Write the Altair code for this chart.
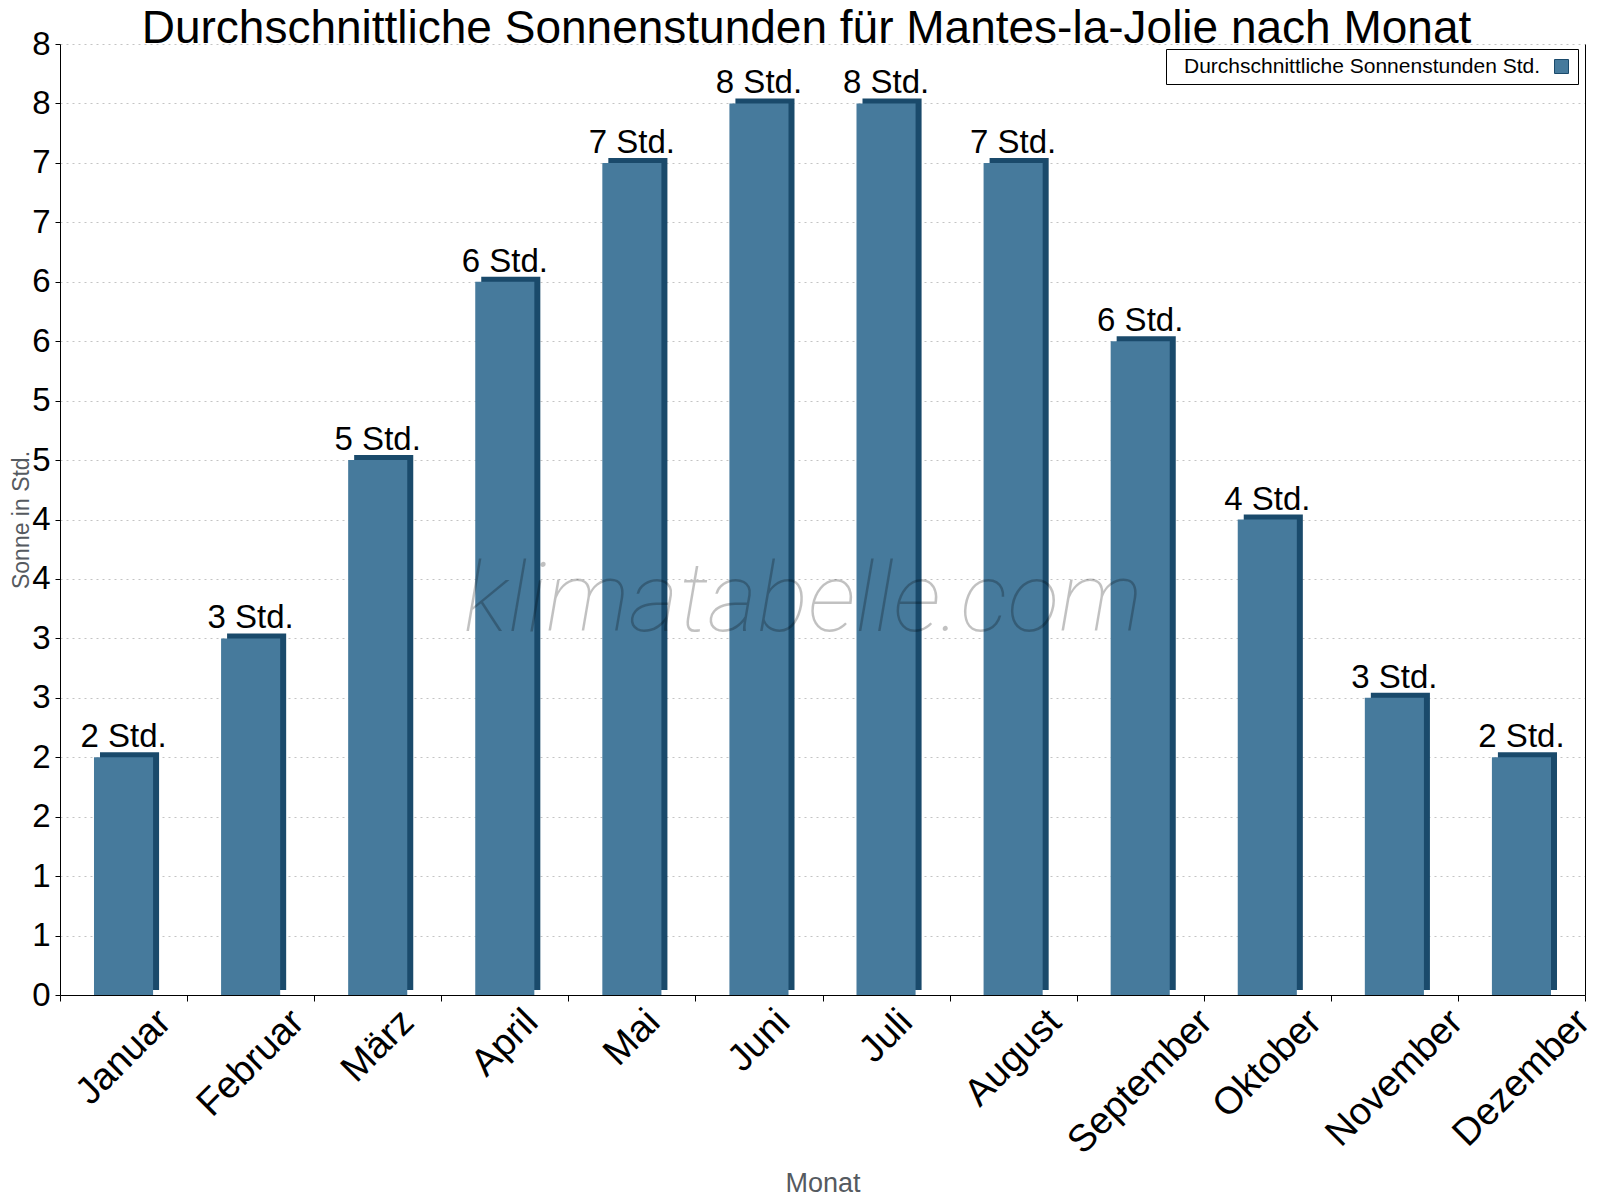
import altair as alt
import pandas as pd

# ---------------- data ----------------
months = ["Januar", "Februar", "März", "April", "Mai", "Juni",
          "Juli", "August", "September", "Oktober", "November", "Dezember"]
sun_hours = [2.0, 3.0, 4.5, 6.0, 7.0, 7.5, 7.5, 7.0, 5.5, 4.0, 2.5, 2.0]
series_name = "Durchschnittliche Sonnenstunden Std."
y_tick_values = [0, 0.5, 1, 1.5, 2, 2.5, 3, 3.5, 4, 4.5, 5, 5.5, 6, 6.5, 7, 7.5, 8]
chart_title = "Durchschnittliche Sonnenstunden für Mantes-la-Jolie nach Monat"
watermark = ["klimatabelle.com"]

df = pd.DataFrame({"month": months, "sun": sun_hours, "series": [series_name] * len(months)})

# ---------------- style ----------------
FONT = "Liberation Sans"
FRONT = "#467a9c"
DARK = "#1a4a6b"
W, H = 1525, 951
XLAB = 38

# approximate Arial advance widths (per 1000 em) to shift rotated labels
arial = {'J': 500, 'a': 556, 'n': 556, 'u': 556, 'r': 333, 'F': 611, 'e': 556, 'b': 556,
         'M': 833, 'ä': 556, 'z': 500, 'A': 667, 'p': 556, 'i': 222, 'l': 222, 'g': 556,
         's': 500, 't': 278, 'S': 667, 'm': 833, 'O': 778, 'k': 500, 'o': 556, 'N': 722,
         'v': 500, 'D': 722}


def tw(s, size):
    return sum(arial.get(c, 556) for c in s) * size / 1000.0


label_offsets = [{"test": f"datum.value === '{m}'", "value": round(0.354 * tw(m, XLAB), 1)}
                 for m in months]

x_enc = alt.X(
    "month:N", sort=months,
    scale=alt.Scale(paddingInner=0, paddingOuter=0),
    axis=alt.Axis(
        title="Monat", tickBand="extent", labelAngle=-45, labelAlign="right",
        labelBaseline="middle", labelFont=FONT, labelFontSize=XLAB, labelColor="black",
        labelPadding=15, labelOffset={"condition": label_offsets, "value": 0},
        labelOverlap=False, labelLimit=400,
        domainColor="black", tickColor="black", tickSize=6, grid=False,
        titleFont=FONT, titleFontSize=27, titleFontWeight="normal", titleColor="#555a60",
        titleY=196, titleBaseline="alphabetic",
    ),
)

y_scale = alt.Scale(domain=[0, 8], nice=False, zero=True)

y_left = alt.Y(
    "sun:Q", scale=y_scale,
    axis=alt.Axis(
        title="Sonne in Std.", values=y_tick_values, labelExpr="'' + round(datum.value)",
        labelFont=FONT, labelFontSize=33, labelColor="black", labelPadding=5,
        domainColor="black", tickColor="black", tickSize=5,
        grid=True, gridColor="#c4c4c4", gridDash=[2, 4], gridWidth=1,
        titleFont=FONT, titleFontSize=23, titleFontWeight="normal", titleColor="#555a60",
        titleX=-32, titleY=H / 2, titleBaseline="alphabetic", titleAlign="center",
    ),
)

y_right = alt.Y(
    "sun:Q", scale=y_scale,
    axis=alt.Axis(orient="right", title=None, labels=False, ticks=False, grid=False,
                  domainColor="black"),
)

base = alt.Chart(df)

side = base.mark_bar(color=DARK, width={"band": 0.465}, xOffset=6, yOffset=-5).encode(
    x=x_enc, y=y_right
)

front = base.mark_bar(width={"band": 0.465}).encode(
    x=x_enc, y=y_left,
    color=alt.Color(
        "series:N", scale=alt.Scale(range=[FRONT]),
        legend=alt.Legend(
            title=None, orient="none", legendX=1106, legendY=5,
            strokeColor="black", fillColor="white", padding=7, cornerRadius=0,
            labelFont=FONT, labelFontSize=21, labelColor="black", labelLimit=600,
            symbolType="square", symbolSize=196, symbolStrokeColor=DARK,
            symbolStrokeWidth=1, symbolOffset=378, labelOffset=alt.ExprRef("-388"),
        ),
    ),
)

labels = base.transform_calculate(
    lab="round(datum.sun) + ' Std.'"
).mark_text(font=FONT, fontSize=33, color="black", baseline="alphabetic", dy=-10).encode(
    x=x_enc,
    y=alt.Y("sun:Q", scale=y_scale, axis=None),
    text="lab:N",
)

wm = alt.Chart(pd.DataFrame({"t": watermark})).mark_text(
    font="Roboto", fontSize=96, fontStyle="italic", fontWeight=100,
    color="black", opacity=0.24, align="center", baseline="alphabetic",
).encode(x=alt.value(743), y=alt.value(587), text="t:N")

chart = alt.layer(side, front, labels, wm).resolve_axis(y="independent").properties(
    width=W, height=H,
    autosize=alt.AutoSizeParams(type="none"),
    padding={"left": 52, "top": 36, "right": 7, "bottom": 205},
    title=alt.TitleParams(
        chart_title, font=FONT, fontSize=46, fontWeight="normal", color="black",
        anchor="middle", dx=-16, dy=25, offset=0,
    ),
).configure_view(stroke=None)

chart.save("out.html", embed_options={"renderer": "svg", "actions": False})
